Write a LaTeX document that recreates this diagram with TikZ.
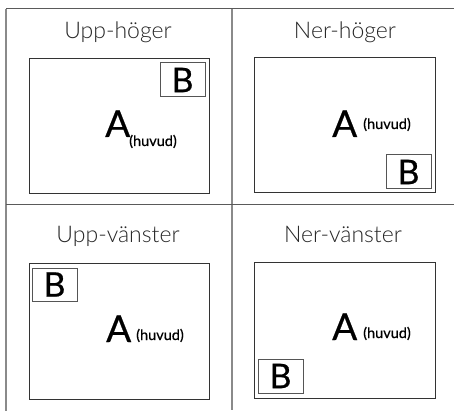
\documentclass[tikz,border=0pt]{standalone}
\usepackage{fontspec}
\setmainfont{Lato}
\newfontfamily\lightfont{Lato Light}
\newfontface\medfont{Lato}[FakeBold=0.6]
\definecolor{gridgray}{HTML}{8A8A8A}
\definecolor{griddark}{HTML}{5A5A5A}
\definecolor{boxdark}{HTML}{333333}
\definecolor{bboxgray}{HTML}{555555}
\begin{document}
\begin{tikzpicture}[x=1pt,y=-1pt,
  screen/.style={draw=boxdark,line width=1pt},
  subbox/.style={draw=bboxgray,line width=1pt},
  title/.style={font=\lightfont\fontsize{23}{26}\selectfont,text=black!85,inner sep=0pt,anchor=base},
  bigA/.style={font=\medfont\fontsize{37}{40}\selectfont,inner sep=0pt,anchor=base west},
  bigB/.style={font=\medfont\fontsize{34}{36}\selectfont,inner sep=0pt},
  hv/.style={font=\medfont\fontsize{14.5}{16}\selectfont,inner sep=0pt,anchor=base west}]
\useasboundingbox (0,0) rectangle (454,411);
% grid
\draw[griddark,line width=1pt] (6,9) -- (454,9);
\draw[gridgray,line width=1.2pt] (6,9) -- (6,411);
\draw[gridgray,line width=1.2pt] (232,9) -- (232,410);
\draw[griddark,line width=1pt] (6,205) -- (454,205);
% panel 1
\node[title] (t1) at (118,39) {Upp-höger};
\draw[screen] (29,59) rectangle (209,194);
\draw[subbox] (160,63) rectangle (205,97);
\node[bigB] (b1) at (182.5,80) {B};
\node[bigA] (a1) at (105,137) {A};
\node[hv] (h1) at (129,146) {(huvud)};
% panel 2
\node[title] (t2) at (345,39) {Ner-höger};
\draw[screen] (254,58) rectangle (435,193);
\draw[subbox] (386,155) rectangle (431,189);
\node[bigB] (b2) at (408.5,172) {B};
\node[bigA] (a2) at (332,137) {A};
\node[hv] (h2) at (363,129) {(huvud)};
% panel 3
\node[title] (t3) at (118,242) {Upp-vänster};
\draw[screen] (29,263) rectangle (209,399);
\draw[subbox] (32,268) rectangle (77,301);
\node[bigB] (b3) at (54.5,284.5) {B};
\node[bigA] (a3) at (106,342) {A};
\node[hv] (h3) at (136,340) {(huvud)};
% panel 4
\node[title] (t4) at (343,242) {Ner-vänster};
\draw[screen] (254,262) rectangle (435,398);
\draw[subbox] (258,359) rectangle (303,393);
\node[bigB] (b4) at (280.5,376) {B};
\node[bigA] (a4) at (332,340) {A};
\node[hv] (h4) at (363,338) {(huvud)};
\end{tikzpicture}
\end{document}
